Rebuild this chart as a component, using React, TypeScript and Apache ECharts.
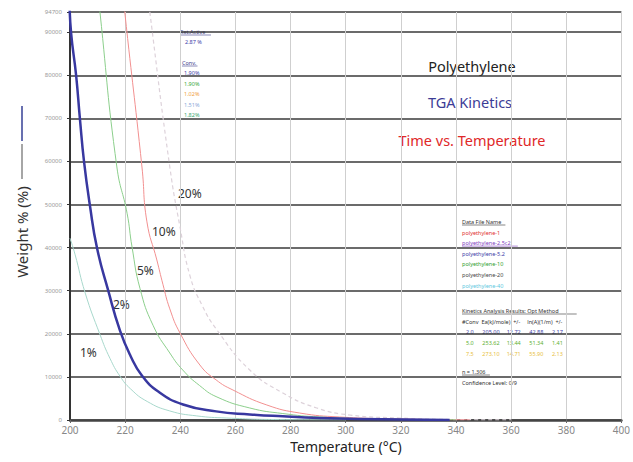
import React, { useEffect, useRef } from "react";
import * as echarts from "echarts";

const xTicks = [200, 220, 240, 260, 280, 300, 320, 340, 360, 380, 400];
const yMax = 94700;

const curve1: number[][] = [
  [200, 42200], [201.8, 38500], [205.5, 29500], [210.9, 19800], [214.5, 14300],
  [218.1, 10200], [222, 7200], [228, 4300], [236.2, 2100], [246, 950], [256.9, 460], [276, 100], [300, 20],
];
const curve2: number[][] = [
  [199.8, 97000], [200.4, 89800], [202.2, 80100], [203.6, 69900], [205.1, 59900], [207.2, 49900],
  [209.8, 39900], [213.8, 30200], [218.1, 20800], [222, 14800], [226, 10400], [232, 6600], [241, 3600],
  [253, 2000], [265.2, 1300], [277.2, 850], [290.6, 460], [305, 230], [337.7, 0],
];
const curve5: number[][] = [
  [210.5, 98000], [210.9, 94470], [217.0, 58720], [220.7, 48000], [222.5, 40150], [225.4, 30500],
  [230.1, 22000], [236.2, 15550], [240.9, 11600], [247, 8000], [253.3, 5340], [265.2, 2790], [277.2, 1500],
  [290.6, 700], [312, 230], [340, 40],
];
const curve10: number[][] = [
  [219.5, 98000], [219.9, 94470], [226.1, 58720], [227.9, 46000], [231.5, 37140], [233.7, 31500],
  [236.2, 25800], [239.9, 20190], [247.1, 12770], [253, 9300], [259.1, 6960], [271.4, 3480], [283.3, 1620],
  [297.8, 700], [319.6, 230], [345, 40],
];
const curve20: number[][] = [
  [228.5, 98000], [229, 94470], [236.2, 58720], [239.9, 44800], [243.5, 33500], [248, 26500], [253.3, 20890],
  [265.2, 11600], [277.2, 6270], [289.5, 2790], [301.4, 1160], [319.6, 460], [337.7, 120], [360, 20],
];

const curveLabels = ["1%", "2%", "5%", "10%", "20%"];
const retBlock = ["2.87 %"];
const convValues = ["1.90%", "1.90%", "1.02%", "1.51%", "1.82%"];
const convColors = ["#3d3da8", "#3aa83a", "#f0a040", "#8aa8d8", "#3aa870"];
const fileNames = ["polyethylene-1", "polyethylene-2.5c2", "polyethylene-5.2", "polyethylene-10", "polyethylene-20", "polyethylene-40"];
const fileColors = ["#e03030", "#8040c0", "#3d3da8", "#30a030", "#444444", "#60c8e0"];
const kinRows = [
  "2.0      205.00     12.72      42.88      2.17",
  "5.0      253.62     13.44      51.34      1.41",
  "7.5      273.10     14.71      55.90      2.13",
];
const kinColors = ["#3d3da8", "#60b030", "#e8c040"];

export default function App() {
  const ref = useRef<HTMLDivElement>(null);
  useEffect(() => {
    const chart = echarts.init(ref.current!, null, { renderer: "svg" });
    const ff = "Noto Sans";
    const small = (text: string, x: number, y: number, color: string, underline = false) => {
      const els: any[] = [
        { type: "text", x, y, style: { text, fill: color, fontSize: 5.5, fontFamily: ff, verticalAlign: "middle" } },
      ];
      if (underline) {
        els.push({ type: "line", shape: { x1: x, y1: y + 3, x2: x + text.length * 3.1, y2: y + 3 }, style: { stroke: color, lineWidth: 0.6 } });
      }
      return els;
    };
    const graphics: any[] = [];
    graphics.push({ type: "line", shape: { x1: 22, y1: 106, x2: 22, y2: 141 }, style: { stroke: "#6870b0", lineWidth: 2 } });
    graphics.push({ type: "line", shape: { x1: 22, y1: 144, x2: 22, y2: 179 }, style: { stroke: "#888", lineWidth: 1.5 } });
    graphics.push({
      type: "text", x: 22, y: 232, rotation: Math.PI / 2,
      style: { text: "Weight % (%)", fill: "#333", fontSize: 15, fontFamily: ff, align: "center", verticalAlign: "middle" },
    });
    graphics.push({ type: "text", x: 346, y: 446, style: { text: "Temperature (°C)", fill: "#222", fontSize: 14, fontFamily: ff, align: "center", verticalAlign: "middle" } });
    graphics.push({ type: "text", x: 472, y: 66, style: { text: "Polyethylene", fill: "#222", fontSize: 14.5, fontFamily: ff, align: "center", verticalAlign: "middle" } });
    graphics.push({ type: "text", x: 470, y: 102, style: { text: "TGA Kinetics", fill: "#3c3c96", fontSize: 14.5, fontFamily: ff, align: "center", verticalAlign: "middle" } });
    graphics.push({ type: "text", x: 472, y: 140, style: { text: "Time vs. Temperature", fill: "#e02828", fontSize: 14.5, fontFamily: ff, align: "center", verticalAlign: "middle" } });
    const labelPos = [[80, 352], [113, 304], [137, 270], [152, 231], [178, 193]];
    curveLabels.forEach((t, i) => {
      graphics.push({ type: "text", x: labelPos[i][0], y: labelPos[i][1], style: { text: t, fill: "#333", fontSize: 12, fontFamily: ff, verticalAlign: "middle" } });
    });
    graphics.push(...small("Ret.Active", 180, 32, "#3d3d8a", true));
    graphics.push(...small(retBlock[0], 185, 42, "#3d3da8"));
    graphics.push(...small("Conv.", 182, 63, "#3d3d8a", true));
    convValues.forEach((t, i) => graphics.push(...small(t, 184, 73 + i * 10.5, convColors[i])));
    graphics.push(...small("Data File Name", 462, 222, "#333", true));
    fileNames.forEach((t, i) => graphics.push(...small(t, 462, 232.5 + i * 10.6, fileColors[i], i === 1)));
    graphics.push(...small("Kinetics Analysis Results: Opt Method", 462, 311, "#333", true));
    graphics.push(...small("#Conv  Ea(kJ/mole)  +/-     ln(A)(1/m)  +/-", 462, 322, "#333"));
    kinRows.forEach((t, i) => graphics.push(...small(t, 466, 332 + i * 10.8, kinColors[i])));
    graphics.push(...small("n = 1.306", 462, 372, "#333", true));
    graphics.push(...small("Confidence Level: 0/9", 462, 383, "#333"));

    const lineSeries = (data: number[][], color: string, width: number, type: any = "solid", z = 2) => ({
      type: "line", data, smooth: 0.5, showSymbol: false, symbol: "none", z,
      lineStyle: { color, width, type }, clip: true,
    });

    chart.setOption({
      animation: false,
      grid: { left: 70, right: 11, top: 12, bottom: 42, containLabel: false },
      xAxis: {
        type: "value", min: 200, max: 400, interval: 20,
        axisLine: { show: true, onZero: false, lineStyle: { color: "#444", width: 2.5 } },
        axisTick: { show: true, length: 3, lineStyle: { color: "#666" } },
        axisLabel: { fontSize: 10, color: "#888", fontFamily: ff, margin: 5, formatter: (v: number) => (xTicks.includes(v) ? String(v) : "") },
        splitLine: { show: true, lineStyle: { color: "#cfcfcf", width: 1 } },
      },
      yAxis: {
        type: "value", min: 0, max: yMax, interval: 10000,
        axisLine: { show: true, lineStyle: { color: "#333", width: 2 } },
        axisTick: { show: true, length: 3, lineStyle: { color: "#333" } },
        axisLabel: { fontSize: 6, color: "#999", fontFamily: ff, margin: 8, formatter: (v: number) => String(v) },
        splitLine: { show: true, lineStyle: { color: "#3a3a3a", width: 1.5 } },
      },
      series: [
        lineSeries(curve20, "#ddd2da", 1.2, [4, 3]),
        lineSeries(curve10, "#f29090", 1),
        lineSeries(curve5, "#8ccf8c", 1),
        lineSeries(curve1, "#a8d8cc", 1),
        lineSeries(curve2, "#3838a0", 2.5, "solid", 5),
      ],
      graphic: graphics,
    });
    return () => chart.dispose();
  }, []);
  return <div ref={ref} style={{ width: 633, height: 462, position: "absolute", left: 0, top: 0, background: "#fff" }} />;
}
